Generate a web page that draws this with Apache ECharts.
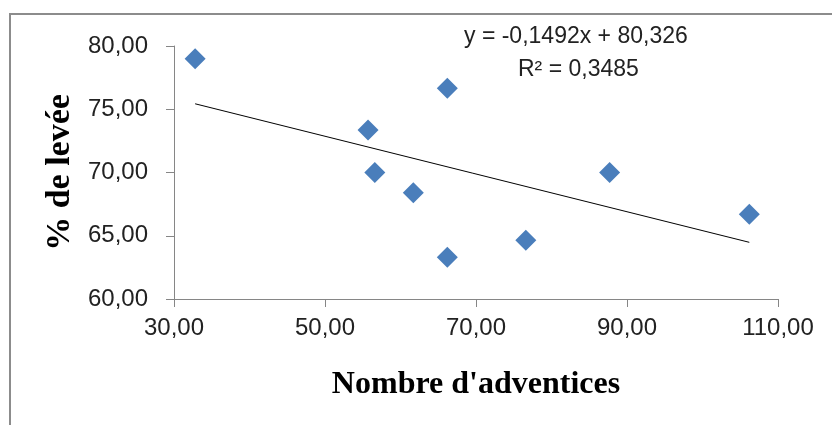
<!DOCTYPE html>
<html>
<head>
<meta charset="utf-8">
<script src="https://cdn.jsdelivr.net/npm/echarts@6/dist/echarts.min.js"></script>
<style>
  html, body { margin: 0; padding: 0; background: #fff; }
  #chart { width: 832px; height: 425px; }
</style>
</head>
<body>
<div id="chart"></div>
<script>
  // weeds count vs emergence %
  var adventices = [32.8, 55.7, 56.6, 61.7, 66.2, 66.2, 76.6, 87.7, 106.2];
  var levee = [79.0, 73.35, 70.0, 68.4, 76.66, 63.3, 64.65, 70.0, 66.7];
  // linear trend shown on the chart
  var slope = -0.1492;
  var intercept = 80.326;
  var trendX = [32.8, 106.2];

  var points = adventices.map(function (x, i) { return [x, levee[i]]; });
  var trend = trendX.map(function (x) { return [x, slope * x + intercept]; });

  var fmt = function (v) { return v.toFixed(2).replace('.', ','); };

  var myChart = echarts.init(document.getElementById('chart'));
  var option = {
    animation: false,
    grid: { left: 174, right: 54, top: 46, bottom: 126 },
    xAxis: {
      type: 'value',
      min: 30, max: 110, interval: 20,
      splitLine: { show: false },
      axisLine: { lineStyle: { color: '#868686' } },
      axisTick: { length: 8, lineStyle: { color: '#868686' } },
      axisLabel: { formatter: fmt, color: '#222', fontSize: 24, fontFamily: 'Liberation Sans', margin: 17 },
      name: "Nombre d'adventices",
      nameLocation: 'middle',
      nameGap: 70,
      nameTextStyle: { fontFamily: 'Liberation Serif', fontWeight: 'bold', fontSize: 32, color: '#000' }
    },
    yAxis: {
      type: 'value',
      min: 60, max: 80, interval: 5,
      splitLine: { show: false },
      axisLine: { show: true, lineStyle: { color: '#868686' } },
      axisTick: { show: true, length: 8, lineStyle: { color: '#868686' } },
      axisLabel: { formatter: fmt, color: '#222', fontSize: 24, fontFamily: 'Liberation Sans', margin: 26 },
      name: '% de levée',
      nameLocation: 'middle',
      nameGap: 94,
      nameRotate: 90,
      nameTextStyle: { fontFamily: 'Liberation Serif', fontWeight: 'bold', fontSize: 34, color: '#000' }
    },
    graphic: [
      { type: 'rect', shape: { x: 10, y: 14, width: 840, height: 440 }, style: { fill: 'none', stroke: '#8c8c8c', lineWidth: 2 }, silent: true },
      { type: 'text', left: 464, top: 25, style: { text: 'y = -0,1492x + 80,326', fontSize: 23, fontFamily: 'Liberation Sans', fill: '#222' } },
      { type: 'text', left: 518, top: 58, style: { text: 'R² = 0,3485', fontSize: 23, fontFamily: 'Liberation Sans', fill: '#222' } }
    ],
    series: [
      {
        type: 'line',
        data: trend,
        symbol: 'none',
        lineStyle: { color: '#000', width: 1 },
        z: 1
      },
      {
        type: 'scatter',
        data: points,
        symbol: 'diamond',
        symbolSize: 21,
        itemStyle: { color: '#4a7ebb', opacity: 1 },
        z: 2
      }
    ]
  };
  myChart.setOption(option);
</script>
</body>
</html>
